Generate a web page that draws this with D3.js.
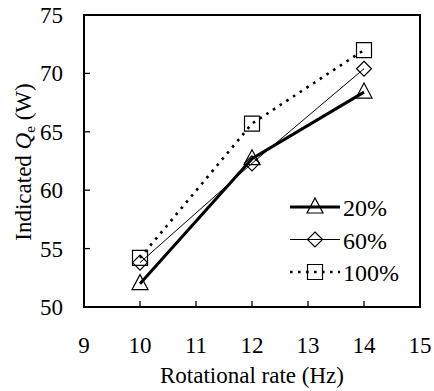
<!DOCTYPE html>
<html>
<head>
<meta charset="utf-8">
<script src="https://cdn.jsdelivr.net/npm/d3@7"></script>
</head>
<body style="margin:0">
<div id="chart"></div>
<script>
// chart data
const rates = [10, 12, 14];
const load20 = [52.0, 62.7, 68.4];
const load60 = [53.8, 62.3, 70.4];
const load100 = [54.2, 65.7, 72.0];
const seriesNames = ['20%', '60%', '100%'];
const xTicks = [9, 10, 11, 12, 13, 14, 15];
const yTicks = [50, 55, 60, 65, 70, 75];

const width = 434, height = 391;
const plotL = 84, plotR = 420, plotT = 15, plotB = 307;

const svg = d3.select('#chart')
  .append('svg')
  .attr('width', width)
  .attr('height', height);

const x = d3.scaleLinear().domain([9, 15]).range([plotL, plotR]);
const y = d3.scaleLinear().domain([50, 75]).range([plotB, plotT]);

const series = [
  { name: seriesNames[0], values: load20, width: 3, dash: null, marker: 'triangle' },
  { name: seriesNames[1], values: load60, width: 1, dash: null, marker: 'diamond' },
  { name: seriesNames[2], values: load100, width: 2.6, dash: '2.6,5.4', marker: 'square' }
];

function markerPath(kind) {
  if (kind === 'triangle') return 'M0,-9L8,6L-8,6Z';
  if (kind === 'diamond') return 'M0,-7.5L7.5,0L0,7.5L-7.5,0Z';
  return 'M-7.5,-7.5L7.5,-7.5L7.5,7.5L-7.5,7.5Z';
}

// ticks (inward)
svg.append('g').selectAll('line')
  .data(yTicks.slice(1, -1))
  .join('line')
  .attr('x1', plotL).attr('x2', plotL + 6)
  .attr('y1', (d) => y(d)).attr('y2', (d) => y(d))
  .attr('stroke', '#000').attr('stroke-width', 1.3);

svg.append('g').selectAll('line')
  .data(xTicks.slice(1, -1))
  .join('line')
  .attr('x1', (d) => x(d)).attr('x2', (d) => x(d))
  .attr('y1', plotB).attr('y2', plotB - 6)
  .attr('stroke', '#000').attr('stroke-width', 1.3);

// tick labels
svg.selectAll('text.ytick')
  .data(yTicks)
  .join('text')
  .attr('class', 'ytick')
  .attr('x', 63)
  .attr('y', (d) => y(d) + 8)
  .attr('text-anchor', 'end')
  .style('font', '23px "Times New Roman"')
  .text((d) => d);

svg.selectAll('text.xtick')
  .data(xTicks)
  .join('text')
  .attr('class', 'xtick')
  .attr('x', (d) => x(d))
  .attr('y', 353)
  .attr('text-anchor', 'middle')
  .style('font', '23px "Times New Roman"')
  .text((d) => d);

// axis titles
svg.append('text')
  .attr('x', (plotL + plotR) / 2)
  .attr('y', 383)
  .attr('text-anchor', 'middle')
  .style('font', '23px "Times New Roman"')
  .text('Rotational rate (Hz)');

const yTitle = svg.append('text')
  .attr('transform', 'translate(31,162) rotate(-90)')
  .attr('text-anchor', 'middle')
  .style('font', '23px "Times New Roman"');
yTitle.append('tspan').text('Indicated ');
yTitle.append('tspan').style('font-style', 'italic').text('Q');
yTitle.append('tspan').attr('dy', 4).style('font-size', '15px').text('e');
yTitle.append('tspan').attr('dy', -4).text(' (W)');

// lines
const line = d3.line()
  .x((d, i) => x(rates[i]))
  .y((d) => y(d));

series.forEach((s) => {
  svg.append('path')
    .datum(s.values)
    .attr('d', line)
    .attr('fill', 'none')
    .attr('stroke', '#000')
    .attr('stroke-width', s.width)
    .attr('stroke-dasharray', s.dash);

  svg.append('g').selectAll('path')
    .data(s.values)
    .join('path')
    .attr('transform', (d, i) => `translate(${x(rates[i])},${y(d)})`)
    .attr('d', markerPath(s.marker))
    .attr('fill', 'none')
    .attr('stroke', '#000')
    .attr('stroke-width', 1.2);
});

// legend
series.forEach((s, i) => {
  const ly = 207 + i * 32.5;
  svg.append('line')
    .attr('x1', 290).attr('x2', 340)
    .attr('y1', ly).attr('y2', ly)
    .attr('stroke', '#000')
    .attr('stroke-width', s.width)
    .attr('stroke-dasharray', s.dash);
  svg.append('path')
    .attr('transform', `translate(315,${ly})`)
    .attr('d', markerPath(s.marker))
    .attr('fill', 'none')
    .attr('stroke', '#000')
    .attr('stroke-width', 1.2);
  svg.append('text')
    .attr('x', 343)
    .attr('y', ly + 9)
    .style('font', '24px "Times New Roman"')
    .text(s.name);
});

// frame
svg.append('rect')
  .attr('x', plotL).attr('y', plotT)
  .attr('width', plotR - plotL).attr('height', plotB - plotT)
  .attr('fill', 'none')
  .attr('stroke', '#000')
  .attr('stroke-width', 2);
</script>
</body>
</html>
